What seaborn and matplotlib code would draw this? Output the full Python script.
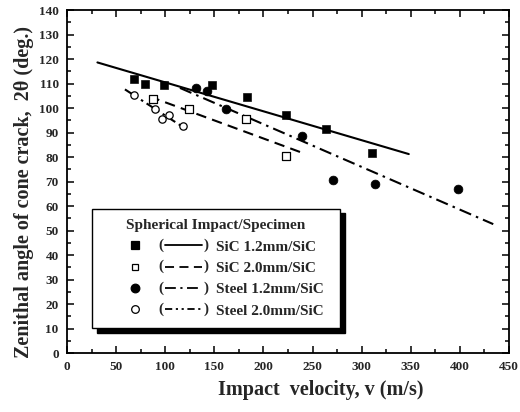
import matplotlib
matplotlib.use("Agg")
import matplotlib.pyplot as plt
import seaborn as sns
from matplotlib.lines import Line2D
from matplotlib.text import Text
from matplotlib.legend_handler import HandlerBase
from matplotlib.ticker import MultipleLocator

# measured points
sic12_v = [68, 79, 99, 148, 183, 223, 264, 311]
sic12_a = [112, 110, 109.5, 109.5, 104.5, 97, 91.5, 81.5]
sic20_v = [88, 124, 182, 223]
sic20_a = [103.5, 99.5, 95.5, 80.5]
steel12_v = [131, 143, 162, 239, 271, 314, 398]
steel12_a = [108, 107, 99.5, 88.5, 70.5, 69, 67]
steel20_v = [68, 90, 97, 104, 118]
steel20_a = [105.5, 99.5, 95.5, 97, 92.5]

# fitted lines (end points)
fit_sic12_v = [31, 348]
fit_sic12_a = [118.6, 81.2]
fit_sic20_v = [84, 241]
fit_sic20_a = [104.7, 81.5]
fit_steel12_v = [115, 434]
fit_steel12_a = [108.2, 52.6]
fit_steel20_v = [59, 124]
fit_steel20_a = [107.6, 90.7]

labels = ["SiC 1.2mm/SiC", "SiC 2.0mm/SiC", "Steel 1.2mm/SiC", "Steel 2.0mm/SiC"]

sns.set_style("ticks")
plt.rcParams["font.family"] = ["Liberation Serif", "DejaVu Serif"]
plt.rcParams["font.weight"] = "bold"

ls_solid = "-"
ls_dash = (0, (5, 3))
ls_dashdot = (0, (6, 2.5, 1.2, 2.5))
ls_dashdotdot = (0, (4, 2, 1.2, 2, 1.2, 2))


class ParenHandler(HandlerBase):
    """marker, then '( line )' like the original legend"""
    def __init__(self, style):
        super().__init__()
        self.style = style

    def create_artists(self, legend, orig_handle, xdescent, ydescent, width, height, fontsize, trans):
        y = height / 2 - ydescent
        x0 = -xdescent
        mk = Line2D([x0 + 0.30 * width], [y], marker=orig_handle.get_marker(),
                    markersize=orig_handle.get_markersize(),
                    markerfacecolor=orig_handle.get_markerfacecolor(),
                    markeredgecolor="black", markeredgewidth=0.9, linestyle="none")
        ln = Line2D([x0 + 0.58 * width, x0 + 0.93 * width], [y, y], color="black", lw=1.3,
                    linestyle=self.style)
        p1 = Text(x0 + 0.54 * width, y, "(", ha="center", va="center", fontsize=fontsize, fontweight="bold")
        p2 = Text(x0 + 0.97 * width, y, ")", ha="center", va="center", fontsize=fontsize, fontweight="bold")
        for a in (mk, ln, p1, p2):
            a.set_transform(trans)
        return [mk, ln, p1, p2]


fig = plt.figure(figsize=(5.2, 4.12), dpi=100)
ax = fig.add_axes([0.1288, 0.1432, 0.85, 0.8325])

lw = 1.5
sns.lineplot(x=fit_sic12_v, y=fit_sic12_a, ax=ax, color="black", lw=lw, linestyle=ls_solid, estimator=None, sort=False)
sns.lineplot(x=fit_sic20_v, y=fit_sic20_a, ax=ax, color="black", lw=lw, linestyle=ls_dash, estimator=None, sort=False)
sns.lineplot(x=fit_steel12_v, y=fit_steel12_a, ax=ax, color="black", lw=lw, linestyle=ls_dashdot, estimator=None, sort=False)
sns.lineplot(x=fit_steel20_v, y=fit_steel20_a, ax=ax, color="black", lw=lw, linestyle=ls_dashdotdot, estimator=None, sort=False)

sns.scatterplot(x=sic12_v, y=sic12_a, ax=ax, marker="s", s=30, color="black", edgecolor="black", zorder=3)
sns.scatterplot(x=sic20_v, y=sic20_a, ax=ax, marker="s", s=26, color="white", edgecolor="black", linewidth=0.9, zorder=3)
sns.scatterplot(x=steel12_v, y=steel12_a, ax=ax, marker="o", s=40, color="black", edgecolor="black", zorder=3)
sns.scatterplot(x=steel20_v, y=steel20_a, ax=ax, marker="o", s=28, color="white", edgecolor="black", linewidth=0.9, zorder=3)

ax.set_xlim(0, 450)
ax.set_ylim(0, 140)
ax.xaxis.set_major_locator(MultipleLocator(50))
ax.xaxis.set_minor_locator(MultipleLocator(25))
ax.yaxis.set_major_locator(MultipleLocator(10))
ax.yaxis.set_minor_locator(MultipleLocator(5))
ax.tick_params(which="both", direction="in", top=True, right=True, width=1.1, color="black")
ax.tick_params(which="major", length=5, labelsize=9.5, pad=6)
ax.tick_params(which="minor", length=3)
for lab in ax.get_xticklabels() + ax.get_yticklabels():
    lab.set_fontweight("bold")
for sp in ax.spines.values():
    sp.set_linewidth(1.3)
    sp.set_color("black")

ax.set_xlabel("Impact  velocity, v (m/s)", fontsize=14.5, fontweight="bold")
ax.set_ylabel("Zenithal angle of cone crack,  2\u03b8 (deg.)", fontsize=14.5, fontweight="bold")
ax.xaxis.set_label_coords(0.575, -0.08)
ax.yaxis.set_label_coords(-0.075, 0.47)

markers = [("s", "black", 5.2), ("s", "white", 5), ("o", "black", 6.2), ("o", "white", 5.5)]
styles = [ls_solid, ls_dash, ls_dashdot, ls_dashdotdot]
handles = []
hmap = {}
for (m, fc, ms), st in zip(markers, styles):
    h = Line2D([], [], marker=m, markersize=ms, markerfacecolor=fc, markeredgecolor="black", linestyle="none")
    handles.append(h)
    hmap[h] = ParenHandler(st)

leg = ax.legend(handles, labels, handler_map=hmap,
                title="Spherical Impact/Specimen", loc="lower left",
                bbox_to_anchor=(0.0566, 0.072, 0.561, 0.356), mode="expand", borderaxespad=0,
                prop={"weight": "bold", "size": 11}, title_fontproperties={"weight": "bold", "size": 11},
                handlelength=7.0, handletextpad=0.4, labelspacing=0.5, borderpad=0.7,
                fancybox=False, framealpha=1, edgecolor="black",
                shadow={"ox": 3.5, "oy": -3.5, "color": "black", "alpha": 1})
leg.get_frame().set_linewidth(1.0)

fig.savefig("out.png", dpi=100)
